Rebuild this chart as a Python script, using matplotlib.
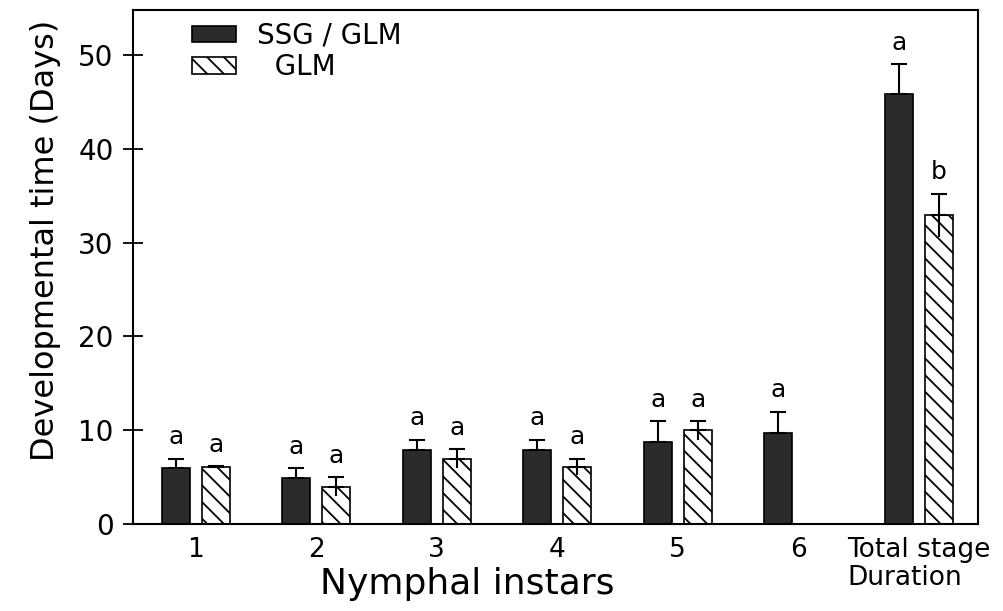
import matplotlib.pyplot as plt
import numpy as np

plt.rcParams["font.family"] = ["DejaVu Sans"]
plt.rcParams["hatch.linewidth"] = 1.3

groups = ["1", "2", "3", "4", "5", "6", "Total stage\nDuration"]
ssg_glm = [6.0, 4.9, 7.9, 7.9, 8.8, 9.7, 45.8]
ssg_glm_err = [1.0, 1.1, 1.1, 1.1, 2.2, 2.3, 3.2]
glm = [6.1, 4.0, 7.0, 6.1, 10.0, np.nan, 32.9]
glm_err = [0.1, 1.0, 1.0, 0.9, 1.0, np.nan, 2.3]
ssg_letters = ["a", "a", "a", "a", "a", "a", "a"]
glm_letters = ["a", "a", "a", "a", "a", "", "b"]

x = np.arange(len(groups))
w = 0.23
off = 0.166

fig = plt.figure(figsize=(10.04, 6.11), dpi=100)
ax = fig.add_axes([0.1325, 0.142, 0.8415, 0.842])

ekw = dict(ecolor="black", elinewidth=1.5, capsize=6, capthick=1.5)
zeros = np.zeros(len(x))
ax.bar(x - off, ssg_glm, w, color="#2b2b2b", edgecolor="black", linewidth=1.2,
       yerr=[zeros, ssg_glm_err], error_kw=ekw, label="SSG / GLM")
ax.bar(x + off, glm, w, color="white", edgecolor="black", linewidth=1.2, hatch="\\\\",
       yerr=[zeros, glm_err], error_kw=ekw, label="  GLM")
# lower half of the error line shows through the hatched bars
ax.vlines(x + off, np.array(glm) - np.array(glm_err), glm, color="black", lw=1.5)

for xi, v, e, t in zip(x - off, ssg_glm, ssg_glm_err, ssg_letters):
    if t:
        ax.text(xi, v + e + 1.0, t, ha="center", va="bottom", fontsize=18)
for xi, v, e, t in zip(x + off, glm, glm_err, glm_letters):
    if t:
        ax.text(xi, v + e + 1.0, t, ha="center", va="bottom", fontsize=18)

ax.set_xlim(-0.52, 6.49)
ax.set_ylim(0, 54.8)
ax.set_yticks([0, 10, 20, 30, 40, 50])
ax.set_xticks(x)
ax.set_xticklabels(groups, fontsize=19, linespacing=1.1, multialignment="left")
ax.tick_params(axis="x", length=0, pad=9)
ax.tick_params(axis="y", direction="inout", length=14, width=1.3, labelsize=20, pad=7)
for s in ax.spines.values():
    s.set_linewidth(1.5)

ax.set_ylabel("Developmental time (Days)", fontsize=23)
ax.yaxis.set_label_coords(-0.085, 0.5525)
ax.set_xlabel("Nymphal instars", fontsize=26)
ax.xaxis.set_label_coords(0.395, -0.083)

ax.legend(loc="upper left", bbox_to_anchor=(59 / 845, 1 - 12 / 514), frameon=False, fontsize=20,
          borderpad=0, borderaxespad=0, handlelength=1.6, handleheight=0.55,
          labelspacing=0.12, handletextpad=0.75)

fig.savefig("out.png", dpi=100)
